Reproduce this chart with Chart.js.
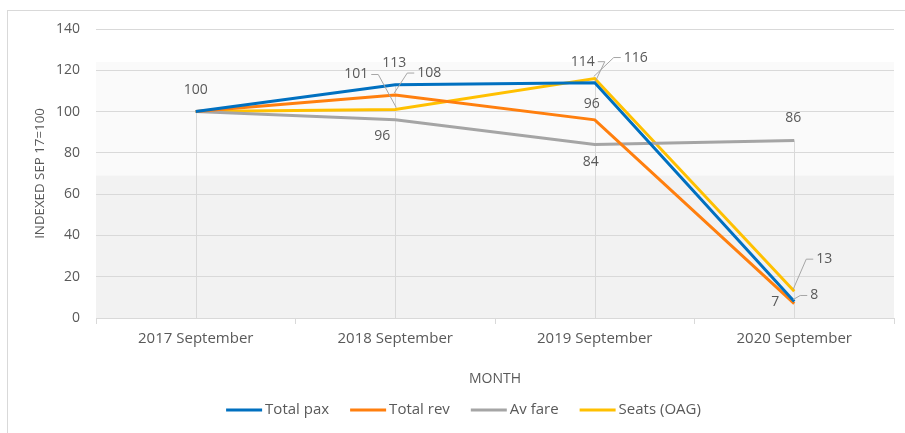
<!DOCTYPE html>
<html><head><meta charset="utf-8">
<script src="https://cdn.jsdelivr.net/npm/chart.js@4/dist/chart.umd.min.js"></script>
<style>html,body{margin:0;padding:0;background:#fff}#wrap{width:905px;height:433px;position:relative}</style>
</head><body><div id="wrap"><canvas id="c" width="905" height="433"></canvas></div>
<script>
const categories = ['2017 September','2018 September','2019 September','2020 September'];
const totalPax = [100, 113, 114, 8];
const totalRev = [100, 108, 96, 7];
const avFare = [100, 96, 84, 86];
const seatsOAG = [100, 101, 116, 13];
const yTicks = [0,20,40,60,80,100,120,140];

const TXT = '#595959';
const FONT = '"Open Sans", "Liberation Sans", sans-serif';

// label placement (pixel offsets from point), null = no label; leader = draw connector
const labelPlace = [
  [{dx:0,dy:-22},{dx:-1,dy:-22},{dx:-12,dy:-21,leader:true},{dx:20,dy:-6,leader:true}],
  [null,{dx:34,dy:-22,leader:true},{dx:-3,dy:-16},{dx:-19,dy:-2}],
  [null,{dx:-13,dy:16},{dx:-4,dy:17},{dx:-1,dy:-22}],
  [null,{dx:-39,dy:-35,leader:true},{dx:41,dy:-21,leader:true},{dx:30,dy:-32,leader:true}]
];

const bgPlugin = {
  id:'bg',
  beforeDraw(chart){
    const {ctx, chartArea:a} = chart;
    ctx.save();
    ctx.strokeStyle='#d9d9d9'; ctx.lineWidth=1;
    ctx.strokeRect(7.5,10.5,905,433);
    const h=a.bottom-a.top;
    ctx.fillStyle='#fafafa';
    ctx.fillRect(a.left,a.top+h*0.114,a.right-a.left,h*(0.507-0.114));
    ctx.fillStyle='#f2f2f2';
    ctx.fillRect(a.left,a.top+h*0.507,a.right-a.left,h*(1-0.507));
    ctx.restore();
  },
  beforeDatasetsDraw(chart){
    const {ctx} = chart;
    const x=chart.scales.x, y=chart.scales.y;
    ctx.save();
    ctx.strokeStyle='#d9d9d9'; ctx.lineWidth=1;
    categories.forEach((c,i)=>{
      const mx=Math.max(...chart.data.datasets.map(d=>d.data[i]));
      const px=Math.round(x.getPixelForValue(i))+0.5;
      ctx.beginPath(); ctx.moveTo(px,y.getPixelForValue(mx)); ctx.lineTo(px,y.getPixelForValue(0)); ctx.stroke();
    });
    ctx.restore();
  },
  afterDatasetsDraw(chart){
    const {ctx} = chart;
    ctx.save();
    ctx.font='14px '+FONT; ctx.fillStyle=TXT; ctx.textAlign='center'; ctx.textBaseline='middle';
    chart.data.datasets.forEach((ds,di)=>{
      const meta=chart.getDatasetMeta(di);
      ds.data.forEach((v,i)=>{
        const p=labelPlace[di][i]; if(!p) return;
        const pt=meta.data[i];
        const lx=pt.x+p.dx, ly=pt.y+p.dy;
        ctx.fillText(String(v),lx,ly);
        if(p.leader){
          const w=ctx.measureText(String(v)).width;
          ctx.strokeStyle='#a6a6a6'; ctx.lineWidth=1;
          ctx.beginPath();
          if(Math.abs(p.dx)>8){
            const side=p.dx>0?-1:1;
            const sx=lx+side*(w/2+3);
            ctx.moveTo(sx,ly); ctx.lineTo(sx+side*7,ly);
            ctx.lineTo(pt.x+side*1,pt.y+(p.dy<0?-2:2));
          } else {
            ctx.moveTo(lx,ly+9); ctx.lineTo(pt.x-1,pt.y-2);
          }
          ctx.stroke();
        }
      });
    });
    ctx.restore();
  },
  afterDraw(chart){
    const {ctx} = chart;
    ctx.save();
    ctx.font='15px '+FONT; ctx.textBaseline='middle'; ctx.textAlign='left';
    const sw=36, gapT=3, gapI=21, cy=410;
    const items=chart.data.datasets.map(d=>({t:d.label,c:d.borderColor,w:ctx.measureText(d.label).width}));
    const total=items.reduce((s,it)=>s+sw+gapT+it.w,0)+gapI*(items.length-1);
    let x=chart.width/2+11-total/2;
    items.forEach(it=>{
      ctx.fillStyle=it.c; ctx.fillRect(x,cy-1.5,sw,3);
      ctx.fillStyle=TXT; ctx.fillText(it.t,x+sw+gapT,cy);
      x+=sw+gapT+it.w+gapI;
    });
    ctx.restore();
  }
};

new Chart(document.getElementById('c'),{
  type:'line',
  data:{labels:categories,datasets:[
    {label:'Total pax',data:totalPax,borderColor:'#0070C0',backgroundColor:'#0070C0'},
    {label:'Total rev',data:totalRev,borderColor:'#FF7F0E',backgroundColor:'#FF7F0E'},
    {label:'Av fare',data:avFare,borderColor:'#A5A5A5',backgroundColor:'#A5A5A5'},
    {label:'Seats (OAG)',data:seatsOAG,borderColor:'#FFC000',backgroundColor:'#FFC000'}
  ].map(d=>Object.assign(d,{borderWidth:3,pointRadius:0,tension:0,fill:false}))},
  options:{
    responsive:false,animation:false,
    layout:{padding:{top:29,right:11,left:8,bottom:40}},
    plugins:{
      legend:{display:false},
      tooltip:{enabled:false}
    },
    scales:{
      x:{offset:true,
        afterFit(s){s.height=75;},
        grid:{display:true,offset:true,drawOnChartArea:false,drawTicks:true,tickLength:6,color:'#d9d9d9'},
        border:{display:true,color:'#d9d9d9'},
        ticks:{color:TXT,font:{size:15,family:FONT},padding:6,maxRotation:0},
        title:{display:true,text:'MONTH',color:TXT,font:{size:14,family:FONT},padding:{top:0,bottom:6}}
      },
      y:{min:0,max:140,
        afterFit(s){s.width=88;},
        afterBuildTicks(s){s.ticks=yTicks.map(v=>({value:v}));},
        grid:{color:'#d9d9d9',drawTicks:false},
        border:{display:false},
        ticks:{color:TXT,font:{size:14,family:FONT},padding:16},
        title:{display:true,text:'INDEXED SEP 17=100',color:TXT,font:{size:13.3,family:FONT},padding:{top:24,bottom:0}}
      }
    }
  },
  plugins:[bgPlugin]
});
</script></body></html>
